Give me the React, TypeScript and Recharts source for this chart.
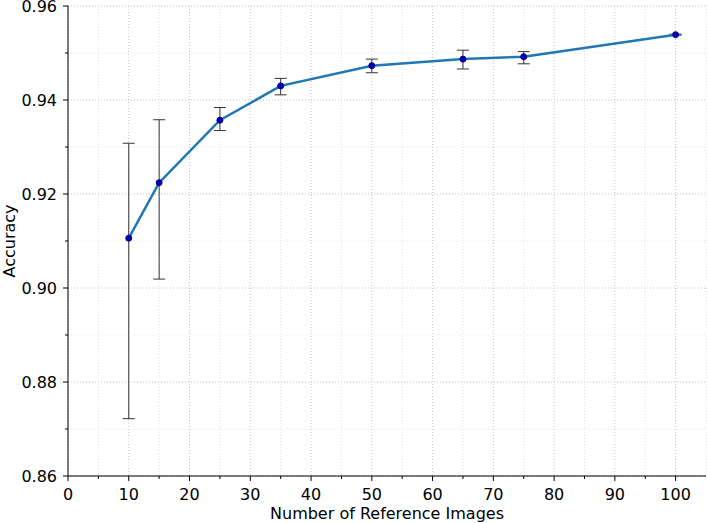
import React from 'react';
import { LineChart, Line, XAxis, YAxis, CartesianGrid, ErrorBar } from 'recharts';

const numImages = [10, 15, 25, 35, 50, 65, 75, 100];
const accuracy = [0.9106, 0.9224, 0.9357, 0.943, 0.9473, 0.9487, 0.9492, 0.9539];
const errLower = [0.0384, 0.0205, 0.0022, 0.0019, 0.0015, 0.0021, 0.0015, 0.0001];
const errUpper = [0.0202, 0.0134, 0.0027, 0.0016, 0.0014, 0.0019, 0.0011, 0.0001];

const xTicks = [0, 5, 10, 15, 20, 25, 30, 35, 40, 45, 50, 55, 60, 65, 70, 75, 80, 85, 90, 95, 100, 105];
const yTicks = [0.86, 0.87, 0.88, 0.89, 0.9, 0.91, 0.92, 0.93, 0.94, 0.95, 0.96];

const data = numImages.map((n, i) => ({
  n,
  acc: accuracy[i],
  err: [errLower[i], errUpper[i]],
}));

const FONT = 'DejaVu Sans, sans-serif';

const XTick = (props: any) => {
  const { x, y, payload } = props;
  const v = payload.value;
  if (v > 100) return <g />;
  const major = v % 10 === 0;
  return (
    <g>
      <line x1={x} x2={x} y1={y} y2={y + (major ? 5 : 3)} stroke="#000" strokeWidth={1} />
      {major && (
        <text x={x} y={y + 24} textAnchor="middle" fontSize={16} fill="#000" fontFamily={FONT}>
          {v}
        </text>
      )}
    </g>
  );
};

const YTick = (props: any) => {
  const { x, y, payload } = props;
  const v = payload.value;
  const major = Math.round(v * 1000) % 20 === 0;
  return (
    <g>
      <line x1={x} x2={x - (major ? 5 : 3)} y1={y} y2={y} stroke="#000" strokeWidth={1} />
      {major && (
        <text x={x - 11} y={y} dy="0.36em" textAnchor="end" fontSize={16} fill="#000" fontFamily={FONT}>
          {v.toFixed(2)}
        </text>
      )}
    </g>
  );
};

const gridLine = (kind: 'h' | 'v') => (props: any) => {
  const { x1, y1, x2, y2, index } = props;
  const major = index % 2 === 0;
  return (
    <line
      key={`${kind}-${index}`}
      x1={x1}
      y1={y1}
      x2={x2}
      y2={y2}
      stroke={major ? '#c4c4c4' : '#e4e4e4'}
      strokeWidth={1}
      strokeDasharray="1 2"
    />
  );
};

const XLabel = (props: any) => {
  const { viewBox } = props;
  return (
    <text
      x={viewBox.x + viewBox.width / 2}
      y={viewBox.y + 43}
      textAnchor="middle"
      fontSize={16}
      fill="#000"
      fontFamily={FONT}
    >
      Number of Reference Images
    </text>
  );
};

const YLabel = (props: any) => {
  const { viewBox } = props;
  const cx = 9;
  const cy = viewBox.y + viewBox.height / 2;
  return (
    <text
      x={cx}
      y={cy}
      transform={`rotate(-90 ${cx} ${cy})`}
      textAnchor="middle"
      dominantBaseline="central"
      fontSize={16}
      fill="#000"
      fontFamily={FONT}
    >
      Accuracy
    </text>
  );
};

export default function App() {
  return (
    <div style={{ position: 'absolute', left: 0, top: 0, width: 708, height: 523, background: '#fff' }}>
      <LineChart width={708} height={523} data={data} margin={{ top: 6, right: 2, left: 0, bottom: 0 }}>
        <CartesianGrid horizontal={gridLine('h')} vertical={gridLine('v')} />
        <XAxis
          dataKey="n"
          type="number"
          domain={[0, 105]}
          ticks={xTicks}
          interval={0}
          tickSize={0}
          tickMargin={0}
          tick={<XTick />}
          height={47}
          axisLine={{ stroke: '#000', strokeWidth: 1 }}
          label={<XLabel />}
        />
        <XAxis
          xAxisId="top"
          orientation="top"
          type="number"
          domain={[0, 105]}
          height={0}
          tick={false}
          tickLine={false}
          axisLine={{ stroke: '#000', strokeWidth: 1 }}
        />
        <YAxis
          type="number"
          domain={[0.86, 0.96]}
          ticks={yTicks}
          interval={0}
          tickSize={0}
          tickMargin={0}
          tick={<YTick />}
          width={68}
          axisLine={{ stroke: '#000', strokeWidth: 1 }}
          label={<YLabel />}
        />
        <YAxis
          yAxisId="right"
          orientation="right"
          type="number"
          domain={[0.86, 0.96]}
          width={0}
          tick={false}
          tickLine={false}
          axisLine={{ stroke: '#000', strokeWidth: 1 }}
        />
        <Line
          dataKey="acc"
          type="linear"
          stroke="#1f77b4"
          strokeWidth={2.5}
          dot={{ r: 3, fill: '#0000b4', stroke: '#00008b', strokeWidth: 1 }}
          activeDot={false}
          isAnimationActive={false}
        >
          <ErrorBar dataKey="err" direction="y" width={6} stroke="#333" strokeWidth={1} />
        </Line>
      </LineChart>
    </div>
  );
}
